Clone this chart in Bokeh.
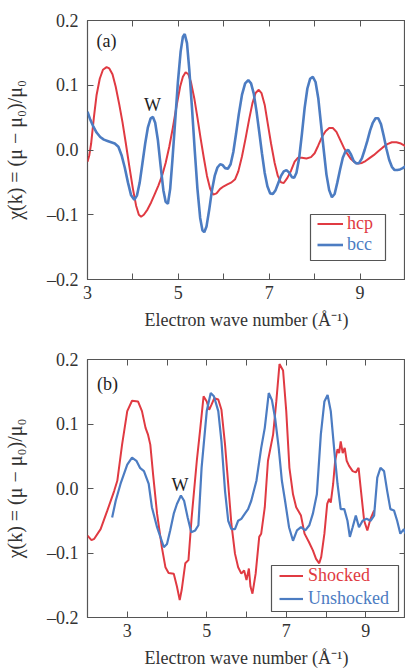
from bokeh.plotting import figure
from bokeh.models import (Range1d, LinearAxis, FixedTicker, CustomJSTickFormatter,
                          Legend, LegendItem, Label, BoxAnnotation, CustomLabelingPolicy)
from bokeh.layouts import column
from bokeh.embed import file_html
from bokeh.resources import INLINE

# ---------------- data: panel (a) ----------------
hcp_k = [3.00, 3.04, 3.08, 3.14, 3.20, 3.27, 3.34, 3.42, 3.48, 3.55,
         3.62, 3.70, 3.77, 3.84, 3.92, 4.00, 4.07, 4.13, 4.18, 4.24,
         4.32, 4.40, 4.48, 4.56, 4.64, 4.72, 4.80, 4.88, 4.96, 5.04,
         5.10, 5.16, 5.22, 5.28, 5.35, 5.42, 5.49, 5.56, 5.63, 5.70,
         5.77, 5.84, 5.92, 6.00, 6.08, 6.17, 6.25, 6.32, 6.40, 6.48,
         6.56, 6.63, 6.70, 6.77, 6.83, 6.90, 6.97, 7.04, 7.12, 7.19,
         7.26, 7.32, 7.40, 7.48, 7.56, 7.63, 7.72, 7.82, 7.92, 8.00,
         8.08, 8.16, 8.24, 8.32, 8.40, 8.48, 8.56, 8.64, 8.72, 8.80,
         8.88, 8.96, 9.04, 9.12, 9.20, 9.30, 9.40, 9.50, 9.60, 9.70,
         9.80, 9.90, 10.00]
hcp_chi = [-0.018, -0.008, 0.010, 0.050, 0.085, 0.110, 0.124, 0.128, 0.126, 0.117,
           0.098, 0.070, 0.043, 0.012, -0.025, -0.060, -0.086, -0.100, -0.103, -0.100,
           -0.092, -0.081, -0.068, -0.055, -0.040, -0.020, 0.005, 0.035, 0.068, 0.098,
           0.113, 0.120, 0.117, 0.104, 0.080, 0.050, 0.018, -0.012, -0.040, -0.060,
           -0.069, -0.067, -0.060, -0.056, -0.053, -0.050, -0.045, -0.033, -0.010, 0.018,
           0.048, 0.072, 0.088, 0.093, 0.088, 0.070, 0.040, 0.010, -0.020, -0.040,
           -0.050, -0.051, -0.043, -0.032, -0.018, -0.012, -0.012, -0.013, -0.011, -0.005,
           0.007, 0.020, 0.029, 0.034, 0.034, 0.028, 0.016, 0.004, -0.006, -0.014,
           -0.019, -0.021, -0.020, -0.017, -0.013, -0.008, -0.002, 0.004, 0.009, 0.012,
           0.012, 0.010, 0.006]

bcc_k = [3.00, 3.06, 3.13, 3.20, 3.28, 3.36, 3.44, 3.52, 3.60, 3.68,
         3.75, 3.82, 3.89, 3.96, 4.03, 4.09, 4.15, 4.21, 4.27, 4.33,
         4.39, 4.44, 4.49, 4.55, 4.61, 4.67, 4.72, 4.77, 4.82, 4.87,
         4.93, 4.99, 5.05, 5.10, 5.14, 5.19, 5.24, 5.30, 5.36, 5.42,
         5.48, 5.53, 5.57, 5.62, 5.68, 5.74, 5.80, 5.86, 5.92, 5.97,
         6.03, 6.09, 6.15, 6.21, 6.27, 6.33, 6.40, 6.47, 6.54, 6.60,
         6.66, 6.72, 6.78, 6.84, 6.90, 6.96, 7.02, 7.08, 7.14, 7.20,
         7.26, 7.32, 7.38, 7.44, 7.50, 7.55, 7.60, 7.66, 7.72, 7.78,
         7.84, 7.90, 7.96, 8.02, 8.08, 8.14, 8.20, 8.26, 8.32, 8.38,
         8.44, 8.50, 8.56, 8.62, 8.68, 8.74, 8.80, 8.86, 8.92, 8.98,
         9.04, 9.10, 9.16, 9.22, 9.28, 9.34, 9.40, 9.46, 9.52, 9.58,
         9.64, 9.70, 9.76, 9.82, 9.88, 9.94, 10.00]
bcc_chi = [0.059, 0.047, 0.036, 0.027, 0.020, 0.016, 0.014, 0.012, 0.010, 0.005,
           -0.008, -0.027, -0.050, -0.070, -0.077, -0.070, -0.050, -0.020, 0.010, 0.035,
           0.049, 0.051, 0.042, 0.015, -0.025, -0.062, -0.080, -0.083, -0.060, -0.015,
           0.045, 0.105, 0.152, 0.175, 0.179, 0.165, 0.125, 0.065, 0.000, -0.060,
           -0.105, -0.124, -0.127, -0.118, -0.092, -0.062, -0.040, -0.027, -0.022, -0.023,
           -0.028, -0.029, -0.022, -0.003, 0.025, 0.055, 0.085, 0.103, 0.108, 0.103,
           0.087, 0.060, 0.028, -0.005, -0.035, -0.056, -0.067, -0.068, -0.062, -0.051,
           -0.040, -0.033, -0.031, -0.035, -0.042, -0.043, -0.035, -0.012, 0.025, 0.065,
           0.095, 0.110, 0.113, 0.105, 0.080, 0.040, 0.000, -0.038, -0.062, -0.073,
           -0.068, -0.050, -0.030, -0.012, -0.002, 0.000, -0.007, -0.017, -0.021, -0.020,
           -0.013, 0.000, 0.014, 0.030, 0.042, 0.049, 0.049, 0.040, 0.022, 0.002,
           -0.015, -0.026, -0.031, -0.031, -0.030, -0.028, -0.025]

# ---------------- data: panel (b) ----------------
shocked_k = [2.00, 2.10, 2.17, 2.33, 2.50, 2.67, 2.75, 2.87, 3.00, 3.12,
             3.27, 3.37, 3.46, 3.52, 3.58, 3.65, 3.75, 3.87, 3.96, 4.04,
             4.17, 4.25, 4.32, 4.37, 4.46, 4.54, 4.62, 4.75, 4.83, 4.92,
             5.00, 5.06, 5.12, 5.19, 5.29, 5.37, 5.46, 5.54, 5.62, 5.71,
             5.79, 5.87, 5.94, 6.00, 6.06, 6.10, 6.15, 6.23, 6.32, 6.37,
             6.46, 6.54, 6.67, 6.75, 6.83, 6.92, 7.00, 7.08, 7.17, 7.25,
             7.37, 7.46, 7.57, 7.67, 7.75, 7.83, 7.88, 7.96, 8.03, 8.08,
             8.12, 8.18, 8.23, 8.29, 8.33, 8.37, 8.42, 8.47, 8.52, 8.58,
             8.67, 8.75, 8.82, 8.87, 8.96, 9.04, 9.12, 9.21]
shocked_chi = [-0.073, -0.080, -0.078, -0.063, -0.034, -0.004, 0.012, 0.068, 0.120, 0.136,
               0.135, 0.120, 0.094, 0.084, 0.068, 0.022, -0.039, -0.091, -0.122, -0.131,
               -0.132, -0.152, -0.173, -0.157, -0.116, -0.111, -0.045, 0.043, 0.089, 0.143,
               0.135, 0.122, 0.130, 0.140, 0.138, 0.122, 0.068, 0.007, -0.055, -0.101,
               -0.122, -0.132, -0.127, -0.142, -0.124, -0.152, -0.163, -0.132, -0.075, -0.070,
               -0.029, 0.043, 0.084, 0.135, 0.193, 0.183, 0.120, 0.032, -0.009, -0.029,
               -0.042, -0.070, -0.083, -0.096, -0.109, -0.116, -0.106, -0.070, -0.024, -0.016,
               -0.022, 0.007, 0.043, 0.061, 0.055, 0.073, 0.055, 0.063, 0.043, 0.035,
               0.027, 0.025, 0.032, 0.002, -0.050, -0.065, -0.047, -0.034]

unshocked_k = [2.62, 2.71, 2.83, 3.00, 3.12, 3.23, 3.32, 3.42, 3.54, 3.62,
               3.75, 3.92, 4.00, 4.08, 4.17, 4.25, 4.35, 4.43, 4.52, 4.61,
               4.71, 4.79, 4.87, 5.00, 5.10, 5.18, 5.29, 5.37, 5.46, 5.54,
               5.62, 5.71, 5.79, 5.87, 5.96, 6.04, 6.12, 6.25, 6.37, 6.46,
               6.56, 6.64, 6.72, 6.81, 6.89, 6.97, 7.07, 7.17, 7.27, 7.37,
               7.48, 7.58, 7.67, 7.77, 7.87, 7.96, 8.04, 8.12, 8.21, 8.29,
               8.37, 8.46, 8.54, 8.60, 8.67, 8.75, 8.83, 8.92, 9.02, 9.12,
               9.21, 9.29, 9.37, 9.46, 9.54, 9.62, 9.71, 9.79, 9.87, 9.96, 10.0]
unshocked_chi = [-0.045, -0.019, 0.007, 0.037, 0.048, 0.043, 0.032, 0.027, 0.007, -0.029,
                 -0.060, -0.091, -0.086, -0.065, -0.039, -0.024, -0.011, -0.019, -0.045, -0.068,
                 -0.065, -0.057, 0.032, 0.120, 0.148, 0.143, 0.120, 0.073, -0.004, -0.050,
                 -0.063, -0.063, -0.050, -0.047, -0.039, -0.032, -0.019, 0.012, 0.063, 0.094,
                 0.148, 0.137, 0.109, 0.063, 0.012, -0.019, -0.060, -0.081, -0.065, -0.060,
                 -0.065, -0.057, -0.039, -0.009, 0.084, 0.135, 0.145, 0.120, 0.058, 0.007,
                 -0.032, -0.032, -0.050, -0.075, -0.060, -0.042, -0.060, -0.050, -0.047, -0.050,
                 -0.042, 0.017, 0.032, 0.027, -0.004, -0.032, -0.034, -0.050, -0.070, -0.063, -0.070]

x_major_ticks = [3, 5, 7, 9]
x_minor_ticks = [2, 4, 6, 8, 10]
y_ticks = [-0.2, -0.1, 0.0, 0.1, 0.2]

RED = "#e03a42"
BLUE = "#4c7cc2"
FRAME = "#555555"
TXT = "#333333"
FONT = "Liberation Serif"
FS = "18px"

y_label = "\u03c7(k) = (\u03bc \u2212 \u03bc\u2080)/\u03bc\u2080"
x_label = "Electron wave number (\u00c5\u207b\u00b9)"


def style_axis(ax, show_labels):
    ax.axis_line_color = None
    ax.major_tick_in = 6
    ax.major_tick_out = 0
    ax.minor_tick_in = 6
    ax.minor_tick_out = 0
    ax.major_tick_line_color = FRAME
    ax.minor_tick_line_color = FRAME
    if show_labels:
        ax.major_label_text_font = FONT
        ax.major_label_text_font_size = FS
        ax.major_label_text_color = TXT
    else:
        # mirrored axes: tick marks only, no label takes room or is drawn
        ax.major_label_text_font_size = "0px"
        ax.major_label_standoff = 0
        ax.major_label_policy = CustomLabelingPolicy(code="return []")


def make_fig(xr, height, top, bottom):
    p = figure(width=405, height=height, x_range=Range1d(*xr), y_range=Range1d(-0.2, 0.2),
               output_backend="svg", toolbar_location=None,
               min_border_left=87, min_border_right=0, min_border_top=top,
               min_border_bottom=bottom)
    p.grid.visible = False
    p.outline_line_color = FRAME
    p.outline_line_width = 1.2
    p.background_fill_color = "white"
    p.border_fill_color = "white"

    xt = FixedTicker(ticks=x_major_ticks, minor_ticks=x_minor_ticks)
    yt = FixedTicker(ticks=y_ticks, minor_ticks=[])
    fmt = CustomJSTickFormatter(code="return tick.toFixed(1).replace('-', '\u2013');")

    xa = p.xaxis[0]
    xa.ticker = xt
    style_axis(xa, True)
    xa.major_label_standoff = 6
    xa.axis_label = x_label
    xa.axis_label_text_font = FONT
    xa.axis_label_text_font_size = FS
    xa.axis_label_text_font_style = "normal"
    xa.axis_label_text_color = TXT
    xa.axis_label_standoff = 8

    ya = p.yaxis[0]
    ya.ticker = yt
    ya.formatter = fmt
    style_axis(ya, True)
    ya.major_label_standoff = 9
    ya.axis_label = y_label
    ya.axis_label_text_font = FONT
    ya.axis_label_text_font_size = "20px"
    ya.axis_label_text_font_style = "normal"
    ya.axis_label_text_color = TXT
    ya.axis_label_standoff = 18

    top_ax = LinearAxis(ticker=FixedTicker(ticks=x_major_ticks, minor_ticks=x_minor_ticks))
    style_axis(top_ax, False)
    p.add_layout(top_ax, "above")
    right_ax = LinearAxis(ticker=FixedTicker(ticks=y_ticks, minor_ticks=[]))
    style_axis(right_ax, False)
    p.add_layout(right_ax, "right")
    return p


def add_legend(p, box, entries, x0, glyph_w, standoff):
    # box: (left, right, bottom, top) in screen px measured from the frame's bottom-left
    l, r, b, t = box
    p.add_layout(BoxAnnotation(left=l, right=r, bottom=b, top=t,
                               left_units="screen", right_units="screen",
                               bottom_units="screen", top_units="screen",
                               fill_color="white", fill_alpha=1.0,
                               line_color=FRAME, line_width=1.2, line_alpha=1.0))
    row_h = 17
    for lab, rend, col, yc in entries:
        lg = Legend(items=[LegendItem(label=lab, renderers=[rend])],
                    location=(x0, yc - row_h / 2), padding=0, spacing=0, margin=0,
                    glyph_width=glyph_w, glyph_height=row_h, label_height=row_h,
                    label_standoff=standoff, label_text_font=FONT, label_text_font_size=FS,
                    label_text_color=col, border_line_alpha=0.0, background_fill_alpha=0.0)
        p.add_layout(lg)


def add_text(p, x, y, t):
    p.add_layout(Label(x=x, y=y, text=t, text_font=FONT, text_font_size=FS,
                       text_color="#222222", text_align="center", text_baseline="middle"))


# ---------------- panel (a) ----------------
pa = make_fig((3, 10), 335, 20, 56)
r_hcp = pa.line(hcp_k, hcp_chi, line_color=RED, line_width=2.0)
r_bcc = pa.line(bcc_k, bcc_chi, line_color=BLUE, line_width=2.6)
add_legend(pa, (223, 298, 19, 65),
           [("hcp", r_hcp, RED, 54), ("bcc", r_bcc, BLUE, 33)], 230, 26, 4)
add_text(pa, 3.42, 0.168, "(a)")
add_text(pa, 4.43, 0.069, "W")

# ---------------- panel (b) ----------------
pb = make_fig((2, 10), 335, 24, 51)
r_sh = pb.line(shocked_k, shocked_chi, line_color=RED, line_width=2.0)
r_un = pb.line(unshocked_k, unshocked_chi, line_color=BLUE, line_width=2.2)
add_legend(pb, (184, 311, 6, 52),
           [("Shocked", r_sh, RED, 40), ("Unshocked", r_un, BLUE, 17)], 192, 24, 5)
add_text(pb, 2.5, 0.162, "(b)")
add_text(pb, 4.33, 0.005, "W")

layout = column(pa, pb, spacing=0)
open("out.html", "w").write(file_html(layout, INLINE))
